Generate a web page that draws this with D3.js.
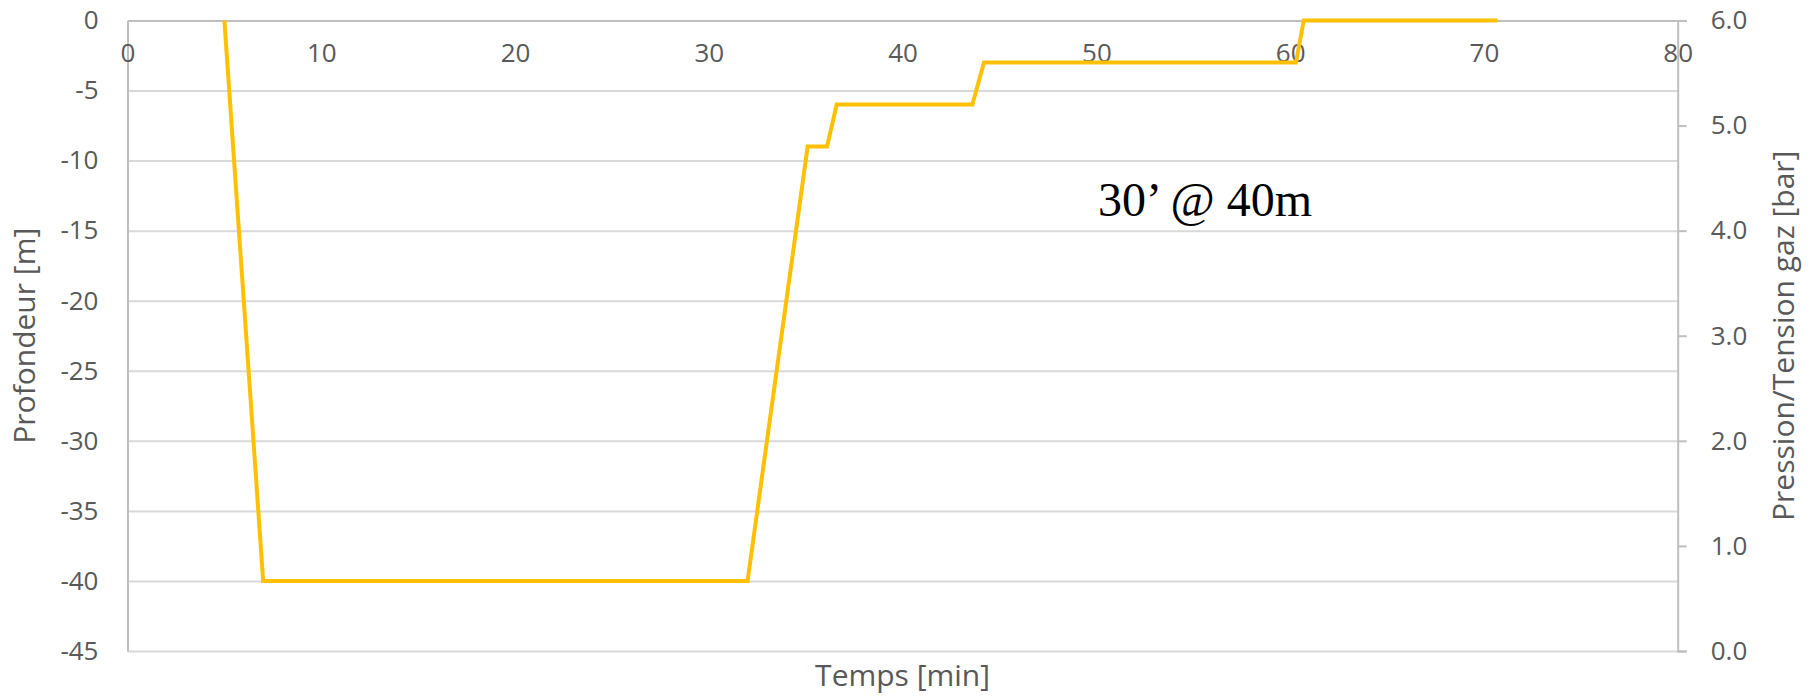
<!DOCTYPE html>
<html>
<head>
<meta charset="utf-8">
<script src="https://cdn.jsdelivr.net/npm/d3@7"></script>
<style>
  html, body { margin: 0; padding: 0; background: #fff; }
  svg { display: block; }
  text { font-family: "Open Sans", "Noto Sans", sans-serif; fill: #595959; }
</style>
</head>
<body>
<svg id="chart" width="1814" height="698"></svg>
<script>
// ---- data ----
const timeMin = [5, 7, 32, 35.1, 36.1, 36.6, 43.6, 44.2, 60.3, 60.7, 70.7];
const depthM  = [0, -40, -40, -9, -9, -6, -6, -3, -3, 0, 0];
const xTicks = [0, 10, 20, 30, 40, 50, 60, 70, 80];
const yLeftTicks = [0, -5, -10, -15, -20, -25, -30, -35, -40, -45];
const yRightTicks = [0, 1, 2, 3, 4, 5, 6];
const xTitle = "Temps [min]";
const yLeftTitle = "Profondeur [m]";
const yRightTitle = "Pression/Tension gaz [bar]";
const annotation = "30’ @ 40m";

// ---- layout ----
const L = 127.5, R = 1677.7, T = 20.5, B = 651;
const svg = d3.select("#chart");
const x = d3.scaleLinear().domain([0, 80]).range([L, R]);
const yL = d3.scaleLinear().domain([-45, 0]).range([B, T]);
const yR = d3.scaleLinear().domain([0, 6]).range([B, T]);
const tickFont = 26;

// gridlines
svg.append("g")
  .attr("transform", `translate(${L},0)`)
  .call(d3.axisLeft(yL).tickValues(yLeftTicks).tickSize(-(R - L)).tickFormat(""))
  .call(g => g.select(".domain").remove())
  .call(g => g.selectAll("line").attr("stroke", "#d9d9d9").attr("stroke-width", 2));

// left axis line + labels
svg.append("g")
  .attr("transform", `translate(${L},0)`)
  .call(d3.axisLeft(yL).tickValues(yLeftTicks).tickSize(0).tickPadding(29).tickFormat(d3.format("d")))
  .call(g => g.select(".domain").attr("stroke", "#bfbfbf").attr("stroke-width", 2))
  .call(g => g.selectAll("text").attr("font-size", tickFont).attr("fill", "#595959")
    .style("font-family", '"Open Sans", sans-serif').text(d => d === 0 ? "0" : "-" + Math.abs(d)));

// right axis
svg.append("g")
  .attr("transform", `translate(${R},0)`)
  .call(d3.axisRight(yR).tickValues(yRightTicks).tickSize(9).tickPadding(24).tickFormat(d3.format(".1f")))
  .call(g => g.select(".domain").attr("stroke", "#bfbfbf").attr("stroke-width", 2))
  .call(g => g.selectAll("line").attr("stroke", "#bfbfbf").attr("stroke-width", 2))
  .call(g => g.selectAll("text").attr("font-size", tickFont).attr("fill", "#595959")
    .style("font-family", '"Open Sans", sans-serif'));

// x axis at depth 0 (top)
svg.append("g")
  .attr("transform", `translate(0,${yL(0)})`)
  .call(d3.axisBottom(x).tickValues(xTicks).tickSize(0).tickPadding(23).tickFormat(d3.format("d")))
  .call(g => g.select(".domain").attr("stroke", "#bfbfbf").attr("stroke-width", 2))
  .call(g => g.selectAll("text").attr("font-size", tickFont).attr("fill", "#595959")
    .style("font-family", '"Open Sans", sans-serif'));

// line
const pts = timeMin.map((t, i) => [t, depthM[i]]);
svg.append("path")
  .datum(pts)
  .attr("fill", "none")
  .attr("stroke", "#FFC000")
  .attr("stroke-width", 4)
  .attr("stroke-linejoin", "miter")
  .attr("d", d3.line().x(d => x(d[0])).y(d => yL(d[1])));

// titles
svg.append("text")
  .attr("x", (L + R) / 2).attr("y", 686)
  .attr("text-anchor", "middle").attr("font-size", 30)
  .text(xTitle);

svg.append("text")
  .attr("transform", `translate(35,${(T + B) / 2}) rotate(-90)`)
  .attr("text-anchor", "middle").attr("font-size", 30)
  .text(yLeftTitle);

svg.append("text")
  .attr("transform", `translate(1794,${(T + B) / 2}) rotate(-90)`)
  .attr("text-anchor", "middle").attr("font-size", 30)
  .text(yRightTitle);

// annotation
svg.append("text")
  .attr("x", 1098).attr("y", 216)
  .attr("font-size", 48)
  .style("font-family", '"Liberation Serif", "DejaVu Serif", serif')
  .style("font-variant-numeric", "oldstyle-nums")
  .style("fill", "#000")
  .text(annotation);
</script>
</body>
</html>
